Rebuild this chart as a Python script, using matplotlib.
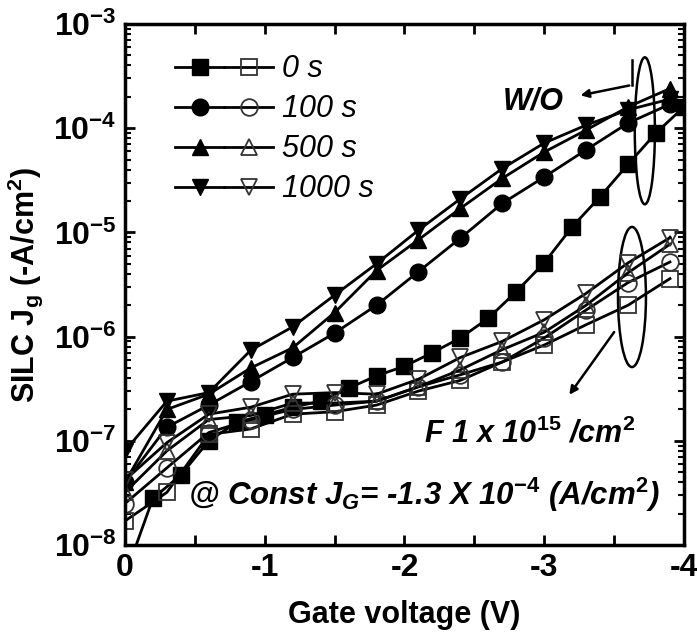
import matplotlib
matplotlib.use("Agg")
import matplotlib.pyplot as plt
import numpy as np
from matplotlib.legend_handler import HandlerTuple
from matplotlib.patches import Ellipse
from matplotlib.ticker import MultipleLocator, LogLocator, FuncFormatter, NullFormatter

plt.rcParams['font.family'] = ['Liberation Sans', 'DejaVu Sans']
plt.rcParams['axes.unicode_minus'] = False
plt.rcParams['mathtext.fontset'] = 'custom'
plt.rcParams['mathtext.rm'] = 'Liberation Sans:bold'
plt.rcParams['mathtext.bf'] = 'Liberation Sans:bold'
plt.rcParams['mathtext.it'] = 'Liberation Sans:italic:bold'

# gate voltage sampling (V)
v_fine = [0, -0.2, -0.4, -0.6, -0.8, -1.0, -1.2, -1.4, -1.6, -1.8, -2.0,
          -2.2, -2.4, -2.6, -2.8, -3.0, -3.2, -3.4, -3.6, -3.8, -4.0]
v_step = [0, -0.3, -0.6, -0.9, -1.2, -1.5, -1.8, -2.1, -2.4, -2.7, -3.0,
          -3.3, -3.6, -3.9]

# W/O implant (filled markers), SILC in A/cm^2
wo_0s = [5e-9, 2.8e-8, 4.7e-8, 1.0e-7, 1.5e-7, 1.77e-7, 2.1e-7, 2.4e-7, 3.2e-7,
         4.2e-7, 5.2e-7, 7.0e-7, 9.7e-7, 1.5e-6, 2.7e-6, 5.1e-6, 1.13e-5,
         2.2e-5, 4.5e-5, 9.0e-5, 1.6e-4]
wo_100s = [4e-8, 1.35e-7, 2.2e-7, 3.7e-7, 6.3e-7, 1.08e-6, 2.0e-6, 4.2e-6,
           8.8e-6, 1.9e-5, 3.4e-5, 6.2e-5, 1.12e-4, 1.7e-4]
wo_500s = [4e-8, 2.0e-7, 2.8e-7, 5.0e-7, 7.8e-7, 1.7e-6, 4.3e-6, 8.5e-6,
           1.7e-5, 3.3e-5, 5.9e-5, 9.6e-5, 1.6e-4, 2.4e-4]
wo_1000s = [8e-8, 2.4e-7, 2.9e-7, 7.4e-7, 1.24e-6, 2.5e-6, 5.0e-6, 1.05e-5,
            2.1e-5, 4.1e-5, 7.2e-5, 1.07e-4, 1.5e-4, 1.9e-4]

# F 1x10^15 implant (open markers)
f_0s = [1.7e-8, 3.2e-8, 1.15e-7, 1.3e-7, 1.8e-7, 1.9e-7, 2.2e-7, 3.0e-7,
        3.8e-7, 5.7e-7, 8.3e-7, 1.3e-6, 2.0e-6, 3.6e-6]
f_100s = [2.5e-8, 5.5e-8, 1.2e-7, 1.6e-7, 2.0e-7, 2.2e-7, 2.4e-7, 3.3e-7,
          4.3e-7, 5.7e-7, 9.7e-7, 1.8e-6, 3.3e-6, 5.2e-6]
f_500s = [3.2e-8, 8.0e-8, 1.6e-7, 1.75e-7, 2.3e-7, 2.3e-7, 2.4e-7, 3.3e-7,
          4.8e-7, 7.5e-7, 1.1e-6, 2.0e-6, 4.1e-6, 7.7e-6]
f_1000s = [4.2e-8, 9.6e-8, 1.8e-7, 2.1e-7, 2.8e-7, 2.9e-7, 2.8e-7, 3.9e-7,
           6.3e-7, 9.0e-7, 1.45e-6, 2.6e-6, 5.1e-6, 8.9e-6]

labels = ['0 s', '100 s', '500 s', '1000 s']
markers = ['s', 'o', '^', 'v']

fig = plt.figure(figsize=(6.97, 6.38), dpi=100)
ax = fig.add_axes([0.1793, 0.1458, 0.8020, 0.8166])

filled_sets = [(v_fine, wo_0s), (v_step, wo_100s), (v_step, wo_500s), (v_step, wo_1000s)]
open_sets = [f_0s, f_100s, f_500s, f_1000s]

handles = []
for (xs, ys), yo, m in zip(filled_sets, open_sets, markers):
    h1, = ax.plot(xs, ys, color='black', lw=2, marker=m, ms=12,
                  mfc='black', mec='black')
    h2, = ax.plot(v_step, yo, color='black', lw=2, marker=m, ms=12,
                  mfc='none', mec='#333333', mew=1.3)
    handles.append((h1, h2))

ax.set_yscale('log')
ax.set_ylim(1e-8, 1e-3)
ax.set_xlim(0, -4)

ax.xaxis.set_major_locator(MultipleLocator(1))
ax.xaxis.set_minor_locator(MultipleLocator(0.5))
ax.yaxis.set_major_locator(LogLocator(base=10, numticks=10))
ax.yaxis.set_minor_locator(LogLocator(base=10, subs=np.arange(2, 10), numticks=10))
ax.yaxis.set_major_formatter(FuncFormatter(lambda v, p: r'$\mathbf{10^{%d}}$' % round(np.log10(v))))
ax.yaxis.set_minor_formatter(NullFormatter())

ax.tick_params(which='both', direction='in', top=True, right=True, width=2)
ax.tick_params(which='major', length=7, labelsize=23, pad=6)
ax.tick_params(axis='x', which='minor', length=7)
ax.tick_params(axis='y', which='minor', length=4, width=1.5)
for lab in ax.get_xticklabels():
    lab.set_fontweight('bold')
for sp in ax.spines.values():
    sp.set_linewidth(2.5)

ax.set_xlabel('Gate voltage (V)', fontsize=22, fontweight='bold', labelpad=12)
ax.set_ylabel(r'SILC $\mathrm{J_g}$ (-A/cm$^\mathrm{2}$)', fontsize=22,
              fontweight='bold', labelpad=6)

leg = ax.legend(handles, labels, handler_map={tuple: HandlerTuple(ndivide=None, pad=0)},
                loc='upper left', bbox_to_anchor=(0.09, 0.942), frameon=False,
                prop={'size': 22, 'style': 'italic'}, handlelength=3.2,
                handletextpad=0.3, labelspacing=0.33, borderpad=0, borderaxespad=0)

# W/O group marker
ax.add_patch(Ellipse((0.930, 0.795), 0.036, 0.282, transform=ax.transAxes,
                     fill=False, lw=1.8, color='black'))
ax.plot([0.907, 0.907], [0.93, 0.883], transform=ax.transAxes, color='black', lw=1.8)
ax.annotate('', xy=(0.810, 0.862), xytext=(0.907, 0.883), xycoords='axes fraction',
            arrowprops=dict(arrowstyle='-|>', color='black', lw=1.8, mutation_scale=12))
ax.text(0.676, 0.835, 'W/O', transform=ax.transAxes, fontsize=22,
        fontweight='bold', style='italic')

# F implanted group marker
ax.add_patch(Ellipse((0.907, 0.476), 0.05, 0.269, transform=ax.transAxes,
                     fill=False, lw=1.8, color='black'))
ax.annotate('', xy=(0.792, 0.284), xytext=(0.878, 0.413), xycoords='axes fraction',
            arrowprops=dict(arrowstyle='-|>', color='black', lw=1.8, mutation_scale=12))
ax.text(0.535, 0.196, r'F 1 x 10$^{\mathit{15}}$ /cm$^{\mathit{2}}$', transform=ax.transAxes,
        fontsize=22, fontweight='bold', style='italic')

ax.text(0.113, 0.077, r'@ Const $J_G$= -1.3 X 10$^{\mathit{-4}}$ (A/cm$^{\mathit{2}}$)',
        transform=ax.transAxes, fontsize=22.5, fontweight='bold', style='italic')

fig.savefig('out.png', dpi=100)
